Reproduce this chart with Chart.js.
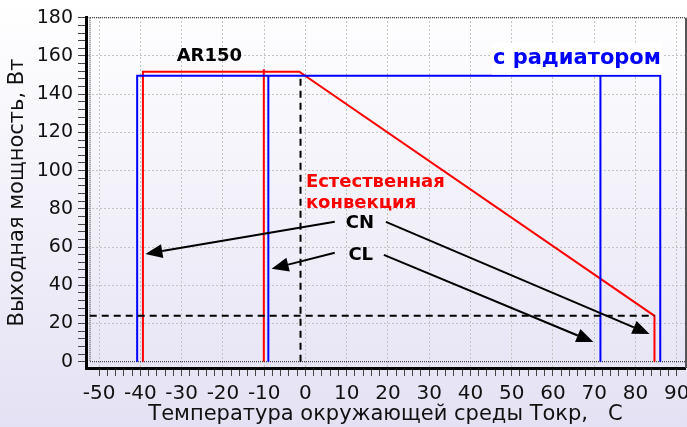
<!DOCTYPE html>
<html>
<head>
<meta charset="utf-8">
<script src="https://cdn.jsdelivr.net/npm/chart.js@4/dist/chart.umd.min.js"></script>
<style>
    html, body { margin: 0; padding: 0; }
    body { width: 687px; height: 427px; overflow: hidden; background: linear-gradient(#ffffff 0%, #f3f2fa 45%, #e4e1f4 100%); }
</style>
</head>
<body>
<canvas id="grafico" width="687" height="427"></canvas>
<script>
// подписи осей
const xTicks = [-50, -40, -30, -20, -10, 0, 10, 20, 30, 40, 50, 60, 70, 80, 90];
const yTicks = [0, 20, 40, 60, 80, 100, 120, 140, 160, 180];

// естественная конвекция (красный)
const convX = [-39.4, -39.4, -1.5, 84.6, 84.6];
const convY = [0, 151.8, 151.8, 24, 0];
const convClX = [-10.1, -10.1];
const convClY = [0, 153];

// с радиатором (синий)
const radX = [-40.8, -40.8, 86, 86];
const radY = [0, 149.7, 149.7, 0];
const radClLeftX = [-9, -9];
const radClRightX = [71.5, 71.5];
const radClY = [0, 149.7];

// пунктирные линии
const dashHX = [-52.3, 84.6];
const dashHY = [24, 24];
const dashVX = [-1.2, -1.2];
const dashVY = [0, 150.3];

// стрелки CN / CL: [от x, от y, к x, к y]
const arrowsCN = [[7.1, 73.2, -38.8, 56.4], [19.5, 73.2, 83.4, 14.5]];
const arrowsCL = [[7.1, 57.0, -8.2, 48.6], [19.0, 55.9, 69.8, 10.3]];

function pares(xs, ys) {
    return xs.map((x, i) => ({ x: x, y: ys[i] }));
}

function linea(xs, ys, color, dash) {
    return {
        data: pares(xs, ys),
        showLine: true,
        borderColor: color,
        borderWidth: 2,
        borderDash: dash || [],
        pointRadius: 0,
        fill: false,
        tension: 0
    };
}

const FONT = 'DejaVu Sans';

// рамка области построения
const rama = {
    id: 'rama',
    beforeDatasetsDraw(chart) {
        const { ctx, chartArea, scales } = chart;
        const left = chartArea.left + 4;
        const right = chartArea.right;
        const top = scales.y.getPixelForValue(180);
        const bottom = scales.y.getPixelForValue(0);
        ctx.save();
        ctx.strokeStyle = '#222';
        ctx.lineWidth = 1;
        ctx.setLineDash([1, 1]);
        ctx.beginPath();
        ctx.moveTo(left, top); ctx.lineTo(right, top);
        ctx.moveTo(left, bottom); ctx.lineTo(right, bottom);
        ctx.moveTo(left, top); ctx.lineTo(left, bottom);
        ctx.stroke();
        ctx.setLineDash([]);
        ctx.strokeStyle = '#555';
        ctx.lineWidth = 2;
        ctx.beginPath();
        ctx.moveTo(right + 1, top); ctx.lineTo(right + 1, chartArea.bottom);
        ctx.stroke();
        ctx.restore();
    }
};

// подписи и стрелки
const anotaciones = {
    id: 'anotaciones',
    afterDatasetsDraw(chart) {
        const { ctx, scales } = chart;
        const px = v => scales.x.getPixelForValue(v);
        const py = v => scales.y.getPixelForValue(v);

        function texto(t, x, y, color, size, align) {
            ctx.font = 'bold ' + size + 'px "' + FONT + '"';
            ctx.fillStyle = color;
            ctx.textAlign = align || 'center';
            ctx.textBaseline = 'middle';
            ctx.fillText(t, px(x), py(y));
        }

        function flecha(a) {
            const x1 = px(a[0]), y1 = py(a[1]), x2 = px(a[2]), y2 = py(a[3]);
            const ang = Math.atan2(y2 - y1, x2 - x1);
            const len = 17, half = 7;
            const bx = x2 - len * Math.cos(ang), by = y2 - len * Math.sin(ang);
            ctx.strokeStyle = '#000';
            ctx.fillStyle = '#000';
            ctx.lineWidth = 2;
            ctx.beginPath();
            ctx.moveTo(x1, y1);
            ctx.lineTo(bx, by);
            ctx.stroke();
            ctx.beginPath();
            ctx.moveTo(x2, y2);
            ctx.lineTo(bx + half * Math.sin(ang), by - half * Math.cos(ang));
            ctx.lineTo(bx - half * Math.sin(ang), by + half * Math.cos(ang));
            ctx.closePath();
            ctx.fill();
        }

        ctx.save();
        // белая подложка под "с радиатором"
        ctx.fillStyle = '#ffffff';
        ctx.fillRect(px(65.8) - 85, py(158.6) - 16, 170, 32);
        texto('с радиатором', 65.8, 158.6, '#0000ff', 21);
        texto('AR150', -23.3, 160.0, '#000', 18);
        texto('Естественная', 0.1, 93.7, '#ff0000', 18, 'left');
        texto('конвекция', 0.1, 82.7, '#ff0000', 18, 'left');
        texto('CN', 13.2, 72.4, '#000', 18);
        texto('CL', 13.4, 55.9, '#000', 18);
        arrowsCN.forEach(flecha);
        arrowsCL.forEach(flecha);
        ctx.restore();
    }
};

const ctx = document.getElementById('grafico').getContext('2d');
const grafico = new Chart(ctx, {
    type: 'scatter',
    data: {
        datasets: [
            linea(dashHX, dashHY, '#000', [7, 5]),
            linea(dashVX, dashVY, '#000', [7, 5]),
            linea(radX, radY, '#0000ff'),
            linea(radClLeftX, radClY, '#0000ff'),
            linea(radClRightX, radClY, '#0000ff'),
            linea(convX, convY, '#ff0000'),
            linea(convClX, convClY, '#ff0000')
        ]
    },
    options: {
        responsive: false,
        animation: false,
        layout: { padding: { top: 17, right: 2, bottom: 0, left: 0 } },
        plugins: {
            legend: { display: false },
            tooltip: { enabled: false }
        },
        scales: {
            x: {
                type: 'linear',
                min: -53.2,
                max: 92,
                afterBuildTicks: scale => {
                    const t = [];
                    for (let v = -50; v <= 90; v += 2) t.push({ value: v });
                    scale.ticks = t;
                },
                afterFit: scale => {
                    scale.height = 59;
                    scale.paddingLeft = 0;
                    scale.paddingRight = 0;
                },
                ticks: {
                    autoSkip: false,
                    maxRotation: 0,
                    padding: 6,
                    color: '#111',
                    font: { family: FONT, size: 20 },
                    callback: v => xTicks.includes(v) ? String(v) : ''
                },
                grid: {
                    color: c => (c.tick && xTicks.includes(c.tick.value)) ? '#c4c4c4' : 'transparent',
                    lineWidth: 1,
                    tickColor: '#444',
                    tickLength: 8,
                    tickWidth: 1
                },
                border: { display: true, color: '#000', width: 3, dash: [2, 2] },
                title: {
                    display: true,
                    text: 'Температура окружающей среды Токр,   С',
                    color: '#111',
                    font: { family: FONT, size: 21 },
                    padding: { top: 0, bottom: 0 }
                }
            },
            y: {
                type: 'linear',
                min: -3.3,
                max: 180.4,
                afterBuildTicks: scale => {
                    const t = [];
                    for (let v = 0; v <= 180; v += 4) t.push({ value: v });
                    scale.ticks = t;
                },
                afterFit: scale => {
                    scale.width = 86;
                    scale.paddingTop = 0;
                    scale.paddingBottom = 0;
                },
                ticks: {
                    autoSkip: false,
                    padding: 5,
                    color: '#111',
                    font: { family: FONT, size: 19 },
                    callback: v => yTicks.includes(v) ? String(v) : ''
                },
                grid: {
                    color: c => (c.tick && yTicks.includes(c.tick.value) && c.tick.value !== 0) ? '#c4c4c4' : 'transparent',
                    lineWidth: 1,
                    tickColor: '#444',
                    tickLength: 8,
                    tickWidth: 1
                },
                border: { display: true, color: '#000', width: 3, dash: [2, 2] },
                title: {
                    display: true,
                    text: 'Выходная мощность, Вт',
                    color: '#111',
                    font: { family: FONT, size: 21 },
                    padding: { top: 5, bottom: 0 }
                }
            }
        }
    },
    plugins: [rama, anotaciones]
});
</script>
</body>
</html>
